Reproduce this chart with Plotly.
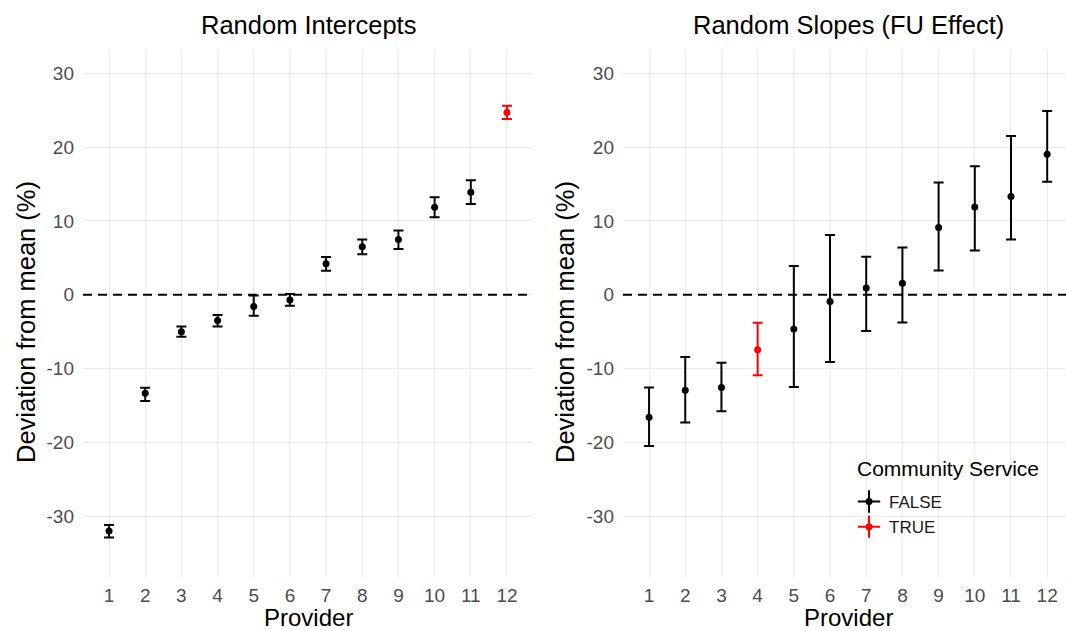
import plotly.graph_objects as go

# ---------------- data ----------------
providers = [1, 2, 3, 4, 5, 6, 7, 8, 9, 10, 11, 12]

int_est = [-32.0, -13.36, -5.0, -3.5, -1.6, -0.7, 4.2, 6.5, 7.5, 11.85, 13.9, 24.7]
int_lo = [-32.9, -14.4, -5.7, -4.3, -2.85, -1.5, 3.25, 5.5, 6.2, 10.5, 12.3, 23.8]
int_hi = [-31.2, -12.6, -4.3, -2.75, -0.1, 0.1, 5.1, 7.5, 8.7, 13.2, 15.5, 25.6]
int_comm = [False, False, False, False, False, False, False, False, False, False, False, True]

slope_est = [-16.6, -12.95, -12.55, -7.45, -4.65, -0.9, 0.9, 1.55, 9.1, 11.9, 13.3, 19.05]
slope_lo = [-20.5, -17.3, -15.8, -10.9, -12.5, -9.1, -4.9, -3.75, 3.3, 6.0, 7.5, 15.3]
slope_hi = [-12.55, -8.45, -9.2, -3.8, 3.9, 8.1, 5.15, 6.4, 15.2, 17.4, 21.5, 24.9]
slope_comm = [False, False, False, True, False, False, False, False, False, False, False, False]

y_ticks = [-30, -20, -10, 0, 10, 20, 30]
panel_titles = ["Random Intercepts", "Random Slopes (FU Effect)"]
x_title = "Provider"
y_title = "Deviation from mean (%)"
legend_title = "Community Service"
group_names = ["FALSE", "TRUE"]
group_colors = {"FALSE": "#000000", "TRUE": "#FF0000"}

# ---------------- figure ----------------
W, H = 1066, 631
FONT = "Liberation Sans, Arial, sans-serif"

fig = go.Figure()


def add_panel(est, lo, hi, comm, xa, ya, legend_on):
    for g in group_names:
        flag = (g == "TRUE")
        idx = [i for i, c in enumerate(comm) if c == flag]
        xs = [providers[i] for i in idx]
        ys = [est[i] for i in idx]
        up = [hi[i] - est[i] for i in idx]
        dn = [est[i] - lo[i] for i in idx]
        col = group_colors[g]
        fig.add_trace(go.Scatter(
            x=xs, y=ys, mode="markers", name=g,
            xaxis=xa, yaxis=ya,
            marker=dict(color=col, size=7),
            error_y=dict(type="data", symmetric=False, array=up, arrayminus=dn,
                         color=col, thickness=2, width=5),
            showlegend=legend_on, legend="legend", legendgroup=g,
        ))


add_panel(int_est, int_lo, int_hi, int_comm, "x", "y", False)
add_panel(slope_est, slope_lo, slope_hi, slope_comm, "x2", "y2", True)

# legend crosses (pointrange glyph look) in a second, overlaid legend
for g in group_names:
    fig.add_trace(go.Scatter(
        x=[None], y=[None], mode="markers", name=g, xaxis="x2", yaxis="y2",
        marker=dict(symbol="cross-thin", size=16, color=group_colors[g],
                    line=dict(color=group_colors[g], width=2)),
        showlegend=True, legend="legend2", legendgroup=g,
    ))

# zero reference line
for xr, yr in [("x", "y"), ("x2", "y2")]:
    fig.add_shape(type="line", xref=f"{xr} domain", yref=yr, x0=0, x1=1, y0=0, y1=0,
                  line=dict(color="black", width=2, dash="9px,6px"), layer="above")


def px(v):
    return v / W


def py(v):
    return 1 - v / H


xaxis_common = dict(
    range=[0.28, 12.72], tickvals=providers, ticktext=[str(p) for p in providers],
    showgrid=True, gridcolor="#EBEBEB", gridwidth=1, zeroline=False, showline=False,
    ticks="", tickfont=dict(size=19, color="#4D4D4D", family=FONT),
    ticklabelstandoff=5, fixedrange=True,
)
yaxis_common = dict(
    range=[-38.2, 33.16], tickvals=y_ticks, ticktext=[str(t) for t in y_ticks],
    showgrid=True, gridcolor="#EBEBEB", gridwidth=1, zeroline=False, showline=False,
    ticks="", tickfont=dict(size=19, color="#4D4D4D", family=FONT),
    ticklabelstandoff=8, fixedrange=True,
)

y_dom = [py(576.7), py(50)]
fig.update_layout(
    width=W, height=H,
    margin=dict(l=0, r=0, t=0, b=0),
    paper_bgcolor="white", plot_bgcolor="white",
    font=dict(family=FONT, color="black"),
    xaxis=dict(domain=[px(83), px(533)], anchor="y", **xaxis_common),
    yaxis=dict(domain=y_dom, anchor="x", **yaxis_common),
    xaxis2=dict(domain=[px(623), 1.0], anchor="y2", **{**xaxis_common, "range": [0.28, 12.52]}),
    yaxis2=dict(domain=y_dom, anchor="x2", **yaxis_common),
    legend=dict(x=px(849), y=py(484), xanchor="left", yanchor="top",
                bgcolor="rgba(0,0,0,0)", font=dict(size=17, family=FONT, color="#1A1A1A"),
                traceorder="normal", itemclick=False, itemdoubleclick=False),
    legend2=dict(x=px(849), y=py(484), xanchor="left", yanchor="top",
                 bgcolor="rgba(0,0,0,0)", font=dict(size=17, family=FONT, color="rgba(0,0,0,0)"),
                 traceorder="normal", itemclick=False, itemdoubleclick=False),
    showlegend=True,
)

annotations = [
    dict(text=panel_titles[0], x=px(308), y=py(25.5), size=25.5),
    dict(text=panel_titles[1], x=px(848), y=py(25.5), size=25.5),
    dict(text=x_title, x=px(308), y=py(617.5), size=24),
    dict(text=x_title, x=px(848), y=py(617.5), size=24),
]
for a in annotations:
    fig.add_annotation(text=a["text"], x=a["x"], y=a["y"], xref="paper", yref="paper",
                       xanchor="center", yanchor="middle", showarrow=False,
                       font=dict(size=a["size"], family=FONT, color="black"))
for xc in [26, 565]:
    fig.add_annotation(text=y_title, x=px(xc), y=py(322), xref="paper", yref="paper",
                       xanchor="center", yanchor="middle", showarrow=False, textangle=-90,
                       font=dict(size=25.5, family=FONT, color="black"))
fig.add_annotation(text=legend_title, x=px(855), y=py(468), xref="paper", yref="paper",
                   xanchor="left", yanchor="middle", showarrow=False,
                   font=dict(size=21, family=FONT, color="black"))

fig.write_html("out.html", config={"displayModeBar": False},
               post_script="document.body.style.margin='0px';document.body.style.overflow='hidden';")
